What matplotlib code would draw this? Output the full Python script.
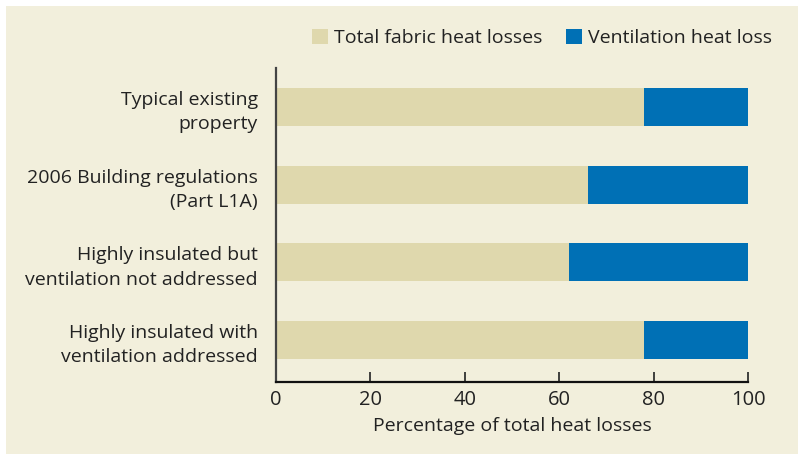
import matplotlib
matplotlib.use("Agg")
import matplotlib.pyplot as plt
from matplotlib.patches import Rectangle, Patch

categories = [
    "Typical existing\nproperty",
    "2006 Building regulations\n(Part L1A)",
    "Highly insulated but\nventilation not addressed",
    "Highly insulated with\nventilation addressed",
]
fabric = [78, 66, 62, 78]
ventilation = [22, 34, 38, 22]
xticks = [0, 20, 40, 60, 80, 100]
series_names = ["Total fabric heat losses", "Ventilation heat loss"]

bg = "#f2efdc"
c_fabric = "#dfd8ad"
c_vent = "#0070b5"

plt.rcParams['font.family'] = ['Open Sans', 'DejaVu Sans']

fig = plt.figure(figsize=(7.98, 4.54), dpi=100)
fig.patch.set_facecolor("white")
panel = Rectangle((6/798, 0), 1 - 6/798, 1 - 6/454, transform=fig.transFigure,
                  facecolor=bg, edgecolor="none", zorder=-10)
fig.add_artist(panel)

ax = fig.add_axes([276/798, 1 - 382/454, (748 - 276)/798, (382 - 68)/454])
ax.set_facecolor(bg)
ax.patch.set_alpha(0)

y = list(range(len(categories)))
ax.barh(y, fabric, height=0.49, color=c_fabric, label=series_names[0])
ax.barh(y, ventilation, left=fabric, height=0.49, color=c_vent, label=series_names[1])

ax.set_xlim(0, 100)
ax.set_ylim(3.54, -0.5)
ax.set_yticks(y)
ax.set_yticklabels(categories, fontsize=14, color="#222222", linespacing=1.45)
ax.set_xticks(xticks)
ax.set_xticklabels([str(t) for t in xticks], fontsize=14.5, color="#222222")
ax.tick_params(axis="y", length=0, pad=13)
ax.tick_params(axis="x", direction="in", length=7, width=1.2, pad=6, color="#222222")
for lab in ax.get_yticklabels():
    lab.set_horizontalalignment("right")

ax.set_xlabel("Percentage of total heat losses", fontsize=14, color="#222222", labelpad=5)

for s in ["top", "right"]:
    ax.spines[s].set_visible(False)
ax.spines["left"].set_color("#444444")
ax.spines["left"].set_linewidth(1.6)
ax.spines["bottom"].set_color("#111111")
ax.spines["bottom"].set_linewidth(1.6)

handles = [Patch(facecolor=c_fabric, edgecolor="none"), Patch(facecolor=c_vent, edgecolor="none")]
fig.legend(handles, series_names, loc="center right", bbox_to_anchor=(780/798, 1 - 38/454),
           ncol=2, frameon=False, fontsize=14, handlelength=0.85, handleheight=0.85,
           handletextpad=0.3, columnspacing=1.2, labelcolor="#222222", borderaxespad=0)

fig.savefig("out.png", dpi=100, facecolor=fig.get_facecolor())
